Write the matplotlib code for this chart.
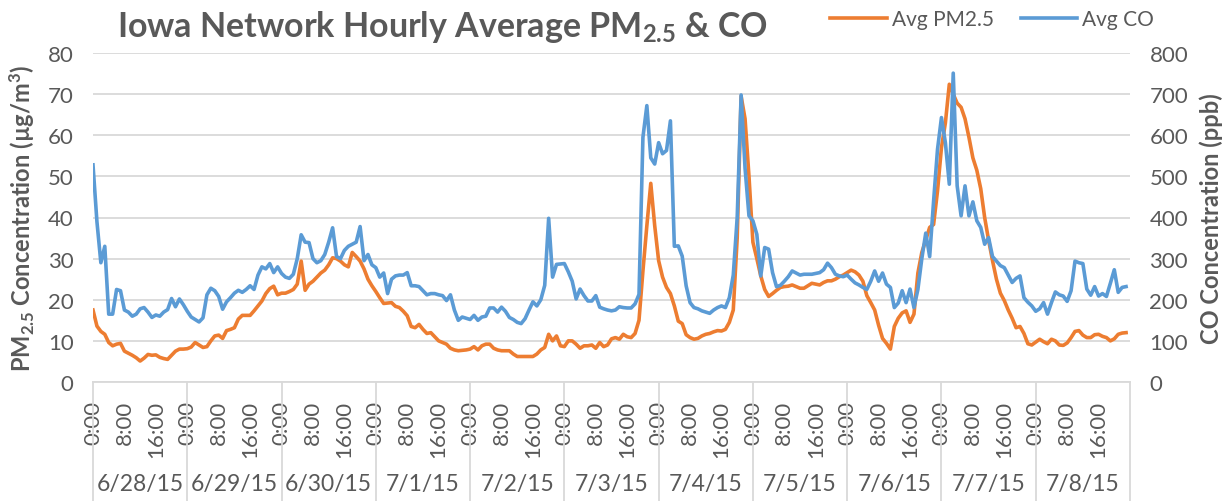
import numpy as np
import matplotlib
matplotlib.use('Agg')
import matplotlib.pyplot as plt
from matplotlib import transforms

# days on the category axis and the hour labels shown for each day
dates = ['6/28/15', '6/29/15', '6/30/15', '7/1/15', '7/2/15', '7/3/15',
         '7/4/15', '7/5/15', '7/6/15', '7/7/15', '7/8/15']
hour_labels = ['0:00', '8:00', '16:00']
label_hours = [0, 8, 16]

# hourly network average PM2.5 (ug/m3), one row per day
pm25 = [
    17.5, 13.6, 12.3, 11.6, 9.6, 8.8, 9.2, 9.4, 7.5, 7.0, 6.5, 5.9, 5.1, 5.8, 6.7, 6.5, 6.6, 6.0, 5.7, 5.5, 6.5, 7.5, 8.0, 8.0,
    8.1, 8.5, 9.6, 9.0, 8.4, 8.6, 10.0, 11.2, 11.4, 10.6, 12.5, 12.8, 13.2, 15.3, 16.2, 16.2, 16.2, 17.3, 18.5, 19.7, 21.5, 22.7, 23.3, 21.2,
    21.6, 21.6, 22.0, 22.5, 23.8, 29.4, 22.3, 23.8, 24.5, 25.5, 26.5, 27.2, 28.5, 30.2, 30.0, 29.4, 28.5, 28.0, 31.5, 30.5, 29.4, 27.5, 25.0, 23.4,
    22.0, 20.5, 19.1, 19.2, 19.3, 18.4, 18.1, 17.2, 16.1, 13.5, 13.2, 14.0, 12.8, 11.8, 12.0, 11.0, 10.0, 9.6, 9.2, 8.2, 7.8, 7.6, 7.7, 7.8,
    8.0, 8.6, 7.8, 8.8, 9.2, 9.2, 8.2, 7.8, 7.6, 7.6, 7.6, 6.8, 6.2, 6.2, 6.2, 6.2, 6.2, 6.8, 7.8, 8.4, 11.6, 10.0, 11.2, 8.8,
    8.6, 10.0, 10.0, 9.2, 8.2, 8.8, 8.8, 9.0, 8.2, 9.6, 8.6, 9.0, 10.5, 10.8, 10.4, 11.6, 11.0, 10.8, 11.8, 15.0, 27.0, 38.0, 48.3, 38.0,
    29.5, 25.5, 23.0, 21.5, 18.5, 14.8, 14.2, 11.5, 10.8, 10.4, 10.6, 11.2, 11.6, 11.8, 12.2, 12.5, 12.4, 12.8, 14.5, 17.5, 35.0, 69.5, 64.0, 50.0,
    34.0, 30.0, 25.8, 22.5, 20.8, 21.5, 22.3, 23.0, 23.2, 23.3, 23.6, 23.2, 22.8, 22.8, 23.4, 24.0, 23.8, 23.6, 24.2, 24.6, 24.6, 25.0, 25.6, 26.0,
    26.6, 27.2, 26.8, 26.0, 24.5, 21.0, 19.3, 17.5, 13.8, 10.6, 9.4, 8.0, 13.5, 15.5, 16.8, 17.3, 14.5, 16.5, 26.5, 31.5, 34.5, 37.6, 38.3, 46.5,
    57.0, 63.0, 72.4, 70.0, 67.8, 66.8, 64.0, 59.5, 54.5, 51.5, 47.0, 40.0, 34.5, 29.5, 25.0, 21.6, 19.8, 17.5, 15.5, 13.2, 13.5, 11.8, 9.3, 9.0,
    9.7, 10.4, 9.8, 9.3, 10.4, 10.0, 9.0, 8.9, 9.5, 10.8, 12.3, 12.5, 11.4, 10.8, 10.8, 11.5, 11.6, 11.1, 10.8, 10.0, 10.5, 11.6, 11.9, 12.0,
]

# hourly network average CO (ppb), one row per day
co = [
    528, 390, 290, 330, 165, 165, 225, 222, 175, 170, 160, 165, 178, 181, 170, 157, 163, 160, 170, 176, 203, 183, 202, 188,
    172, 158, 152, 146, 156, 212, 228, 222, 208, 177, 195, 205, 216, 223, 218, 225, 234, 225, 260, 280, 275, 288, 266, 280,
    264, 255, 252, 262, 300, 358, 340, 339, 300, 290, 295, 310, 340, 375, 305, 300, 320, 330, 335, 340, 378, 295, 310, 285,
    278, 255, 265, 215, 250, 258, 260, 260, 266, 234, 234, 232, 222, 212, 215, 215, 212, 210, 198, 212, 175, 150, 158, 155,
    152, 162, 150, 158, 160, 180, 180, 170, 182, 172, 157, 152, 145, 142, 154, 175, 195, 185, 200, 235, 398, 255, 286, 287,
    288, 268, 245, 202, 226, 210, 197, 197, 210, 182, 178, 175, 173, 175, 183, 181, 180, 180, 190, 213, 595, 672, 545, 530,
    582, 555, 563, 635, 330, 331, 306, 234, 193, 181, 178, 173, 170, 167, 175, 181, 185, 181, 205, 260, 400, 698, 520, 404,
    392, 359, 258, 327, 323, 266, 232, 235, 245, 256, 270, 265, 260, 262, 262, 262, 264, 266, 273, 289, 278, 262, 258, 256,
    260, 250, 241, 236, 230, 225, 245, 270, 245, 265, 238, 230, 181, 192, 222, 193, 226, 181, 225, 300, 362, 305, 440, 566,
    643, 582, 481, 751, 477, 404, 477, 404, 438, 392, 376, 335, 351, 305, 294, 283, 278, 260, 242, 252, 258, 205, 194, 185,
    172, 178, 193, 165, 193, 219, 212, 209, 196, 222, 294, 290, 288, 226, 211, 232, 209, 215, 208, 240, 273, 218, 230, 232,
]

plt.rcParams['font.family'] = ['Lato', 'DejaVu Sans']
plt.rcParams['mathtext.fontset'] = 'custom'
plt.rcParams['mathtext.rm'] = 'Lato'
plt.rcParams['mathtext.bf'] = 'Lato:bold'
plt.rcParams['mathtext.default'] = 'bf'

grey = '#595959'
grid = '#d9d9d9'
W, H = 1226, 502

fig = plt.figure(figsize=(W / 100, H / 100), dpi=100)
ax = fig.add_axes([93 / W, 1 - 383 / H, (1130 - 93) / W, (383 - 54) / H])
ax2 = ax.twinx()

hours = np.arange(len(pm25))
l1, = ax.plot(hours, pm25, color='#ED7D31', lw=2.6, label='Avg PM2.5')
l2, = ax2.plot(hours, co, color='#5B9BD5', lw=2.6, label='Avg CO')

ax.set_xlim(0, len(pm25))
ax.set_ylim(0, 80)
ax2.set_ylim(0, 800)
ax.set_yticks(np.arange(0, 81, 10))
ax2.set_yticks(np.arange(0, 801, 100))
ax.grid(axis='y', color=grid, lw=1.3)
ax.set_axisbelow(True)

for a in (ax, ax2):
    for s in a.spines.values():
        s.set_visible(False)
    a.tick_params(axis='y', length=0, pad=14, labelsize=16, labelcolor=grey)
ax.spines['bottom'].set_visible(True)
ax.spines['bottom'].set_color(grid)
ax.spines['bottom'].set_linewidth(1.3)

# hour labels under every day
pos = [d * 24 + h for d in range(len(dates)) for h in label_hours]
labs = hour_labels * len(dates)
ax.set_xticks(pos)
ax.set_xticklabels(labs, rotation=90, va='top', ha='center')
ax.tick_params(axis='x', length=0, pad=13, labelsize=16, labelcolor=grey)

# day separators and date labels
trans = transforms.blended_transform_factory(ax.transData, ax.transAxes)
for d in range(len(dates) + 1):
    ax.plot([d * 24, d * 24], [0, -0.37], transform=trans, color=grid,
            lw=1.3, clip_on=False)
for d, lab in enumerate(dates):
    ax.text(d * 24 + 12, -0.307, lab, transform=trans, ha='center',
            va='center', fontsize=16.5, color=grey)

ax.set_ylabel('PM$_{2.5}$ Concentration (µg/m$^3$)', fontsize=17,
              fontweight='bold', color=grey, va='center', ha='center')
ax.yaxis.set_label_coords(-0.068, 0.5)
ax2.set_ylabel('CO Concentration (ppb)', fontsize=17, fontweight='bold',
               color=grey, rotation=90, va='center', ha='center')
ax2.yaxis.set_label_coords(1.078, 0.5)

fig.text(117 / W, 1 - 37 / H, 'Iowa Network Hourly Average PM$_{2.5}$ & CO',
         fontsize=24.5, fontweight='bold', color=grey, va='baseline')

fig.legend([l1, l2], ['Avg PM2.5', 'Avg CO'], loc='center left',
           bbox_to_anchor=(820 / W, 1 - 20 / H), ncol=2, frameon=False,
           fontsize=15, labelcolor=grey, handlelength=2.7,
           handletextpad=0.25, columnspacing=1.3, borderpad=0)

fig.savefig('out.png', dpi=100)
